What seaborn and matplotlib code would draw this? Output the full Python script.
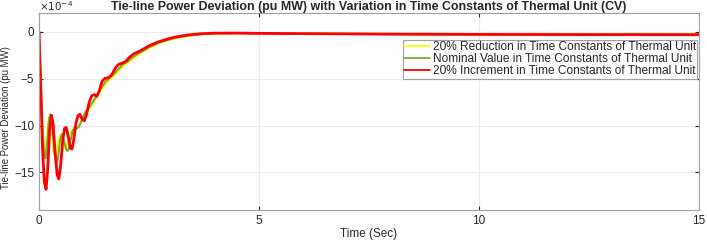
import pandas as pd
import numpy as np
import matplotlib.pyplot as plt
import seaborn as sns

# values, in units of 1e-4 pu MW
t_red = [0, 0.04, 0.08, 0.12, 0.16, 0.2, 0.24, 0.28, 0.32, 0.36, 0.41, 0.45, 0.49, 0.54, 0.58,
         0.62, 0.67, 0.71, 0.75, 0.79, 0.84, 0.89, 0.93, 0.98, 1.03, 1.08, 1.14, 1.2, 1.26, 1.31,
         1.37, 1.43, 1.5, 1.58, 1.65, 1.73, 1.8, 1.88, 1.96, 2.05, 2.15, 2.25, 2.35, 2.5, 2.7,
         2.9, 3.1, 3.4, 3.7, 4.0, 4.5, 5, 6, 8, 10, 12, 15]
v_red = [0, -6, -12.5, -16, -16.8, -14.5, -10.5, -8.9, -9.8, -12.5, -15.2, -15.7, -14.3, -11.5, -10.3,
         -10.2, -11.3, -12.4, -12.5, -11.5, -9.7, -8.9, -8.8, -9.3, -9.5, -8.8, -7.5, -6.8, -6.7, -6.9,
         -6.3, -5.3, -4.95, -4.9, -4.6, -3.9, -3.5, -3.35, -3.2, -2.75, -2.35, -2.15, -1.9, -1.5, -1.1,
         -0.8, -0.55, -0.33, -0.2, -0.15, -0.14, -0.17, -0.2, -0.25, -0.28, -0.3, -0.31]

t_green = [0, 0.04, 0.08, 0.12, 0.15, 0.19, 0.23, 0.26, 0.3, 0.35, 0.39, 0.43, 0.48, 0.52, 0.57,
           0.62, 0.66, 0.71, 0.76, 0.81, 0.86, 0.91, 0.97, 1.05, 1.12, 1.2, 1.3, 1.4, 1.5, 1.6,
           1.7, 1.8, 1.9, 2.0, 2.15, 2.3, 2.5, 2.7, 2.9, 3.1, 3.4, 3.7, 4.0, 4.5, 5, 6, 8, 10, 12, 15]
v_green = [0, -5.5, -10.5, -13.2, -13.5, -11.5, -9.2, -8.8, -10, -12.8, -14.2, -13.5, -11.5, -10.9, -11.6,
           -12.6, -12.7, -11.8, -10.6, -10.2, -10.3, -10.1, -9.4, -8.6, -8.2, -7.6, -6.9, -6.1, -5.4, -4.9,
           -4.5, -4.0, -3.5, -3.2, -2.65, -2.2, -1.65, -1.2, -0.9, -0.65, -0.4, -0.25, -0.17, -0.14,
           -0.17, -0.2, -0.25, -0.28, -0.3, -0.31]

t_yellow = [0, 0.04, 0.08, 0.12, 0.15, 0.18, 0.22, 0.25, 0.29, 0.33, 0.37, 0.41, 0.45, 0.5, 0.54,
            0.59, 0.63, 0.68, 0.73, 0.78, 0.83, 0.9, 0.97, 1.05, 1.12, 1.2, 1.3, 1.4, 1.5, 1.6,
            1.7, 1.8, 1.9, 2.0, 2.15, 2.3, 2.5, 2.7, 2.9, 3.1, 3.4, 3.7, 4.0, 4.5, 5, 6, 8, 10, 12, 15]
v_yellow = [0, -5.8, -10.8, -13, -12.6, -10.8, -9.2, -9.2, -10.8, -12.8, -13.5, -12.6, -11.2, -11, -11.8,
            -12.3, -12.1, -11.3, -10.6, -10.4, -10.4, -10.1, -9.6, -8.9, -8.4, -7.8, -7.1, -6.3, -5.6, -5.1,
            -4.7, -4.2, -3.7, -3.35, -2.8, -2.3, -1.75, -1.3, -0.95, -0.7, -0.43, -0.27, -0.18, -0.14,
            -0.17, -0.2, -0.25, -0.28, -0.3, -0.31]

labels = ['20% Reduction in Time Constants of Thermal Unit',
          'Nominal Value in Time Constants of Thermal Unit',
          '20% Increment in Time Constants of Thermal Unit']

df = pd.concat([
    pd.DataFrame({'t': t_yellow, 'v': v_yellow, 'case': labels[0]}),
    pd.DataFrame({'t': t_green, 'v': v_green, 'case': labels[1]}),
    pd.DataFrame({'t': t_red, 'v': v_red, 'case': labels[2]}),
])

sns.set_style('whitegrid')
plt.rcParams['font.family'] = ['Liberation Sans', 'DejaVu Sans']

fig = plt.figure(figsize=(7.07, 2.4), dpi=100)
ax = fig.add_axes([0.0552, 0.125, 0.9335, 0.8208])

sns.lineplot(data=df, x='t', y='v', hue='case', hue_order=labels,
             palette=['#ffff00', '#77ac30', '#ff0000'], estimator=None, sort=False,
             ax=ax)
for line, lw in zip(ax.get_lines(), [1.5, 1.5, 2.0]):
    line.set_linewidth(lw)

ax.set_xlim(0, 15)
ax.set_ylim(-19, 2)
ax.set_xticks([0, 5, 10, 15])
ax.set_yticks([-15, -10, -5, 0])
ax.grid(True, color='#ebebeb', linewidth=0.8)
ax.tick_params(labelsize=8.5, direction='in', length=3, colors='#262626',
               top=True, right=True, bottom=True, left=True)
for s in ax.spines.values():
    s.set_color('#a0a0a0')
    s.set_linewidth(0.8)

ax.set_xlabel('Time (Sec)', fontsize=8.5, labelpad=1)
ax.set_ylabel('Tie-line Power Deviation (pu MW)', fontsize=6.9)
ax.yaxis.set_label_coords(-0.043, 0.47)
ax.set_title('Tie-line Power Deviation (pu MW) with Variation in Time Constants of Thermal Unit (CV)',
             fontsize=8.9, fontweight='bold', pad=2)
ax.text(0.0, 1.012, r'$\times10^{-4}$', transform=ax.transAxes, fontsize=7.5,
        va='baseline', ha='left', color='#262626')

leg = ax.legend(loc='upper right', bbox_to_anchor=(0.997, 0.862), fontsize=8.6,
                frameon=True, fancybox=False, framealpha=1, edgecolor='#a0a0a0',
                handlelength=2.2, handletextpad=0.2, borderpad=0.1, labelspacing=0.0,
                borderaxespad=0)
leg.get_frame().set_linewidth(0.8)
for h in leg.get_lines():
    h.set_linewidth(1.3)

fig.savefig('out.png', dpi=100)
